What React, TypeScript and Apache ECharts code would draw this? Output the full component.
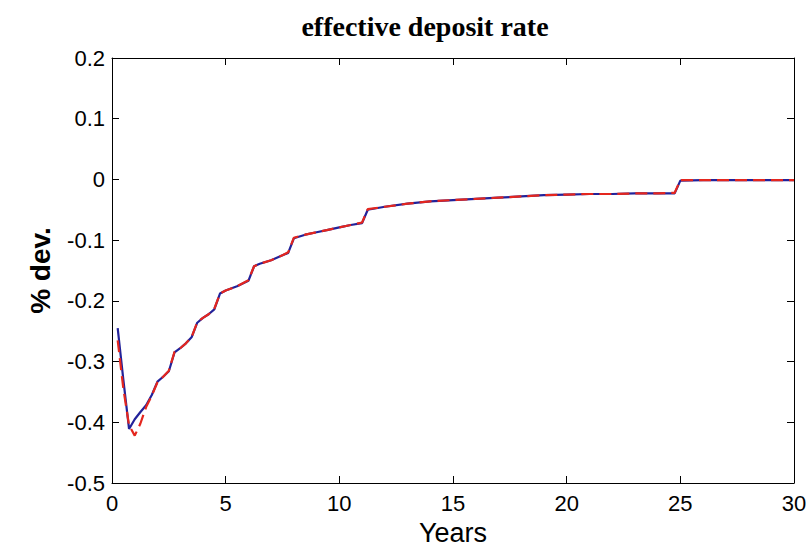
import React, { useEffect, useRef } from "react";
import * as echarts from "echarts";

// Horizon in years (quarterly near the start, coarser later)
const years = [
  0.25, 0.5, 0.75, 1.0, 1.25, 1.5, 1.75, 2.0, 2.25, 2.5, 2.75, 3.0, 3.25, 3.5, 3.75,
  4.0, 4.25, 4.5, 4.75, 5.0, 5.5, 6.0, 6.25, 6.5, 7.0, 7.5, 7.75, 8.0, 8.5, 9.0,
  9.5, 10.0, 10.5, 11.0, 11.25, 12.0, 13.0, 14.0, 15.0, 16.0, 17.0, 18.0, 19.0,
  20.0, 21.0, 22.0, 23.0, 24.0, 24.75, 25.0, 26.0, 28.0, 30.0,
];

// Baseline response (solid blue)
const baseline = [
  -0.245, -0.33, -0.411, -0.395, -0.383, -0.372, -0.355, -0.333, -0.325, -0.316,
  -0.285, -0.278, -0.27, -0.26, -0.236, -0.228, -0.222, -0.214, -0.188, -0.183,
  -0.176, -0.167, -0.143, -0.139, -0.133, -0.125, -0.121, -0.097, -0.091, -0.087,
  -0.083, -0.079, -0.075, -0.072, -0.05, -0.045, -0.04, -0.036, -0.034, -0.032,
  -0.03, -0.028, -0.026, -0.025, -0.024, -0.024, -0.023, -0.023, -0.023, -0.002,
  -0.001, -0.001, -0.001,
];

// Alternative response (dashed red)
const alternative = [
  -0.265, -0.345, -0.405, -0.422, -0.402, -0.375, -0.356, -0.334, -0.325, -0.315,
  -0.284, -0.278, -0.27, -0.26, -0.235, -0.228, -0.222, -0.213, -0.188, -0.183,
  -0.176, -0.166, -0.143, -0.139, -0.133, -0.125, -0.12, -0.096, -0.091, -0.087,
  -0.083, -0.079, -0.075, -0.071, -0.049, -0.045, -0.04, -0.036, -0.034, -0.032,
  -0.03, -0.028, -0.026, -0.025, -0.024, -0.024, -0.023, -0.023, -0.022, -0.001,
  -0.001, -0.001, -0.001,
];

const xTicks = { min: 0, max: 30, step: 5 };
const yTicks = { min: -0.5, max: 0.2, step: 0.1 };

const SANS = "'Liberation Sans', Arial, sans-serif";
const SERIF = "'Liberation Serif', 'Times New Roman', serif";

function fmt(v: number): string {
  const r = Math.round(v * 10) / 10;
  return r === 0 ? "0" : String(r);
}

export default function App() {
  const ref = useRef<HTMLDivElement>(null);

  useEffect(() => {
    if (!ref.current) return;
    const chart = echarts.init(ref.current, undefined, { renderer: "svg" });

    const frameAxis = {
      axisLine: { show: true, onZero: false, lineStyle: { color: "#000", width: 1 } },
      axisTick: { show: true, inside: true, length: 7, lineStyle: { color: "#000" } },
      splitLine: { show: false },
    };

    chart.setOption({
      animation: false,
      backgroundColor: "#fff",
      grid: { left: 112, right: 18, top: 58, bottom: 72, containLabel: false },
      graphic: [
        {
          type: "text",
          x: 425,
          y: 26,
          style: {
            text: "effective deposit rate",
            font: `bold 28px ${SERIF}`,
            fill: "#000",
            textAlign: "center",
            textVerticalAlign: "middle",
          },
        },
      ],
      xAxis: [
        {
          type: "value",
          position: "bottom",
          min: xTicks.min,
          max: xTicks.max,
          interval: xTicks.step,
          ...frameAxis,
          axisLabel: { color: "#000", fontFamily: SANS, fontSize: 22, margin: 9 },
          name: "Years",
          nameLocation: "middle",
          nameGap: 36,
          nameTextStyle: { color: "#000", fontFamily: SANS, fontSize: 27 },
        },
        {
          type: "value",
          position: "top",
          min: xTicks.min,
          max: xTicks.max,
          interval: xTicks.step,
          ...frameAxis,
          axisLabel: { show: false },
        },
      ],
      yAxis: [
        {
          type: "value",
          position: "left",
          min: yTicks.min,
          max: yTicks.max,
          interval: yTicks.step,
          ...frameAxis,
          axisLabel: {
            color: "#000",
            fontFamily: SANS,
            fontSize: 22,
            margin: 7,
            formatter: (v: number) => fmt(v),
          },
          name: "% dev.",
          nameLocation: "middle",
          nameGap: 58,
          nameRotate: 90,
          nameTextStyle: { color: "#000", fontFamily: SANS, fontSize: 28, fontWeight: "bold" },
        },
        {
          type: "value",
          position: "right",
          min: yTicks.min,
          max: yTicks.max,
          interval: yTicks.step,
          ...frameAxis,
          axisLabel: { show: false },
        },
      ],
      series: [
        {
          type: "line",
          xAxisIndex: 0,
          yAxisIndex: 0,
          data: years.map((t, i) => [t, baseline[i]]),
          showSymbol: false,
          lineStyle: { color: "#22229a", width: 2.2, type: "solid" },
          z: 2,
        },
        {
          type: "line",
          xAxisIndex: 0,
          yAxisIndex: 0,
          data: years.map((t, i) => [t, alternative[i]]),
          showSymbol: false,
          lineStyle: { color: "#e4261e", width: 2.2, type: [12, 6] },
          z: 3,
        },
      ],
    });

    return () => chart.dispose();
  }, []);

  return (
    <div
      ref={ref}
      style={{ position: "fixed", left: 0, top: 0, width: 812, height: 555, background: "#fff" }}
    />
  );
}
